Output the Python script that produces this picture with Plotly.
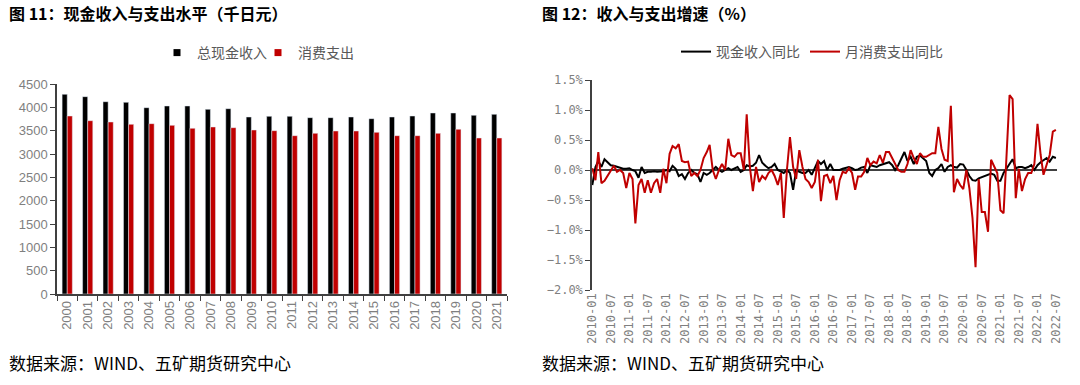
import pandas as pd
import plotly.graph_objects as go

# ---------------- data: left chart ----------------
years = [str(y) for y in range(2000, 2022)]
income = [4279, 4229, 4121, 4107, 3993, 4029, 4029, 3957, 3971, 3793, 3807,
          3807, 3779, 3779, 3793, 3757, 3793, 3814, 3879, 3879, 3829, 3850]
spending = [3814, 3714, 3686, 3636, 3650, 3614, 3550, 3579, 3564, 3514, 3500,
            3393, 3443, 3493, 3493, 3464, 3393, 3393, 3443, 3529, 3343, 3343]

# ---------------- data: right chart ----------------
months = pd.date_range("2010-01-01", periods=151, freq="MS")
income_yoy = [
    -0.25, 0.05, 0.15, 0.05, 0.18, 0.12, 0.08, 0.07, 0.05, 0.03, 0.02, 0.02, 0.03,
    0.0, -0.02, -0.13, 0.05, -0.05, -0.03, -0.03, -0.02, -0.03, -0.03, -0.02, 0.0,
    -0.02, 0.07, 0.02, -0.10, -0.07, -0.15, -0.05, 0.0, -0.05, -0.07, -0.20, -0.05,
    -0.08, -0.05, 0.0, 0.05, 0.0, -0.03, 0.0, 0.03, 0.0, 0.03, 0.05, -0.03, 0.0,
    0.08, 0.06, 0.07, 0.12, 0.25, 0.12, 0.07, 0.03, 0.05, 0.1, 0.0, -0.03, -0.05,
    0.0, -0.05, -0.33, 0.0, -0.03, -0.05, -0.05, 0.0, -0.08, 0.05, 0.15, 0.1,
    0.15, 0.0, 0.1, 0.0, 0.0, 0.0, 0.02, 0.03, 0.05, 0.03, 0.0, 0.01, 0.04, 0.05,
    -0.05, 0.08, 0.07, 0.05, 0.08, 0.1, 0.12, 0.13, 0.08, 0.0, 0.08, 0.19, 0.3,
    0.15, 0.22, 0.1, 0.22, 0.24, 0.2, 0.15, -0.05, -0.1,
    0.0, 0.03, 0.1, -0.03, 0.05, 0.08, 0.05, 0.04, 0.1, 0.09, 0.0, -0.1, -0.17,
    -0.18, -0.14, -0.12, -0.1, -0.08, -0.06, -0.08, -0.18, -0.18, -0.05, 0.02,
    0.1, 0.18, 0.03, 0.05, 0.05, 0.03, 0.05, 0.08, 0.0, 0.08, 0.13, 0.17, 0.2,
    0.14, 0.22, 0.2,
]
spending_yoy = [
    0.03, -0.17, 0.30, -0.22, -0.18, -0.10, -0.03, 0.07, -0.03, 0.0, -0.05, -0.30,
    -0.05, -0.15, -0.89, -0.25, -0.15, -0.38, -0.17, -0.38, -0.22, -0.15, -0.38,
    0.02, -0.22, 0.27, 0.40, 0.36, 0.43, 0.15, 0.13, 0.14, -0.10, -0.05, -0.10,
    0.0, 0.20,
    0.3, 0.42, 0.0, -0.15, 0.0, 0.1, 0.0, 0.52, 0.25, 0.22, 0.28, 0.28, 0.0, 0.93,
    0.05, -0.35, 0.05, -0.2, -0.1, -0.15, -0.05, 0.0, -0.1, -0.25, -0.05, -0.8,
    0.0, 0.55, 0.05, -0.15, 0.33, 0.05, -0.15, -0.2, -0.3, -0.2, 0.17, -0.52,
    -0.1, -0.08, -0.22, -0.1, -0.5, -0.17, -0.03, -0.05, 0.03, -0.05, -0.33,
    -0.11, -0.11, -0.03, 0.2, 0.08, 0.14, 0.11, 0.25, 0.12, 0.3, 0.3, 0.2, 0.1,
    0.0, -0.03, -0.03, 0.1, 0.33, 0.2, 0.1, 0.28, 0.22, 0.22, 0.25, 0.28,
    0.28, 0.72, 0.35, 0.17, 0.15, 1.07, -0.37, -0.15, -0.25, -0.32, 0.0, -0.3,
    -0.8, -1.62, -0.15, -0.7, -0.7, -1.03, 0.17, 0.07, -0.05, -0.67, -0.72, 0.2,
    1.25, 1.18, -0.47, 0.02, -0.35, -0.15, -0.05, -0.05, 0.1, 0.77, 0.25, -0.08,
    0.1, 0.25, 0.64, 0.67,
]

BLACK = "#000000"
RED = "#C00000"
GRAY = "#7f7f7f"
AXIS = "#404040"
FONT = "Liberation Sans, Noto Sans CJK SC, sans-serif"
MONO = "DejaVu Sans Mono, monospace"
CJK = "Noto Sans CJK SC, sans-serif"

W, H = 1080, 385


def px_x(x):
    return x / W


def px_y(y):
    return 1 - y / H


fig = go.Figure()

fig.add_trace(go.Bar(x=years, y=income, name="总现金收入", marker_color=BLACK,
                     xaxis="x", yaxis="y", showlegend=False))
fig.add_trace(go.Bar(x=years, y=spending, name="消费支出", marker_color=RED,
                     xaxis="x", yaxis="y", showlegend=False))
# legend entries with small square keys (as in the reference)
fig.add_trace(go.Scatter(x=[None], y=[None], mode="markers", name="总现金收入",
                         marker=dict(symbol="square", size=7, color=BLACK),
                         xaxis="x", yaxis="y", legend="legend"))
fig.add_trace(go.Scatter(x=[None], y=[None], mode="markers", name="消费支出",
                         marker=dict(symbol="square", size=7, color=RED),
                         xaxis="x", yaxis="y", legend="legend"))

fig.add_trace(go.Scatter(x=months, y=income_yoy, name="现金收入同比", mode="lines",
                         line=dict(color=BLACK, width=2), xaxis="x2", yaxis="y2",
                         legend="legend2"))
fig.add_trace(go.Scatter(x=months, y=spending_yoy, name="月消费支出同比", mode="lines",
                         line=dict(color=RED, width=2), xaxis="x2", yaxis="y2",
                         legend="legend2"))

fig.update_layout(
    width=W, height=H,
    margin=dict(l=0, r=0, t=0, b=0, autoexpand=False),
    paper_bgcolor="white", plot_bgcolor="white",
    barmode="group", bargap=0.5, bargroupgap=0.0,
    font=dict(family=CJK),
    xaxis=dict(
        domain=[px_x(57), px_x(507)], anchor="y", type="category",
        categoryorder="array", categoryarray=years, automargin=False,
        showline=True, linecolor=AXIS, linewidth=1.5,
        ticks="outside", tickson="boundaries", ticklen=5, tickcolor=AXIS,
        tickangle=-90, tickfont=dict(family=FONT, size=13, color=GRAY),
        showgrid=False,
    ),
    yaxis=dict(
        domain=[px_y(294), px_y(84)], anchor="x", range=[0, 4500], dtick=500,
        automargin=False,
        showline=True, linecolor=AXIS, linewidth=1.5, ticks="outside",
        ticklen=5, tickcolor=AXIS, tickfont=dict(family=FONT, size=13, color=GRAY),
        showgrid=False, zeroline=False,
    ),
    xaxis2=dict(
        domain=[px_x(592), px_x(1057)], anchor="y2", type="date",
        range=["2009-12-29", "2022-07-12"], automargin=False,
        tickvals=list(months[::6]), tickformat="%Y-%m",
        tickangle=-90, tickfont=dict(family=MONO, size=12, color=GRAY),
        showline=False, ticks="", showgrid=False, zeroline=False,
    ),
    yaxis2=dict(
        domain=[px_y(290), px_y(80)], anchor="x2", range=[-2.0, 1.5], dtick=0.5,
        tickformat=".1f", ticksuffix="%", automargin=False,
        showline=True, linecolor=AXIS, linewidth=1.5, ticks="outside",
        ticklen=5, tickcolor=AXIS, tickfont=dict(family=MONO, size=12, color=GRAY),
        showgrid=False,
        zeroline=True, zerolinecolor=AXIS, zerolinewidth=1.5,
    ),
    legend=dict(
        orientation="h", x=px_x(258), xanchor="center", y=px_y(53), yanchor="middle",
        font=dict(family=CJK, size=14, color="#595959"), bgcolor="rgba(0,0,0,0)",
        itemwidth=30, tracegroupgap=0, entrywidth=56,
    ),
    legend2=dict(
        orientation="h", x=px_x(812), xanchor="center", y=px_y(52), yanchor="middle",
        font=dict(family=CJK, size=14, color="#595959"), bgcolor="rgba(0,0,0,0)",
        itemwidth=30,
    ),
    annotations=[
        dict(text="<b>图 11：现金收入与支出水平（千日元）</b>", x=px_x(7), y=px_y(13),
             xref="paper", yref="paper", xanchor="left", yanchor="middle",
             showarrow=False, font=dict(family=CJK, size=16, color="#000000")),
        dict(text="<b>图 12：收入与支出增速（%）</b>", x=px_x(540), y=px_y(13),
             xref="paper", yref="paper", xanchor="left", yanchor="middle",
             showarrow=False, font=dict(family=CJK, size=16, color="#000000")),
        dict(text="数据来源：WIND、五矿期货研究中心", x=px_x(7), y=px_y(362),
             xref="paper", yref="paper", xanchor="left", yanchor="middle",
             showarrow=False, font=dict(family=CJK, size=17, color="#000000")),
        dict(text="数据来源：WIND、五矿期货研究中心", x=px_x(540), y=px_y(362),
             xref="paper", yref="paper", xanchor="left", yanchor="middle",
             showarrow=False, font=dict(family=CJK, size=17, color="#000000")),
    ],
)

fig.write_html("out.html", config={"displayModeBar": False},
               post_script="document.body.style.margin='0';")
